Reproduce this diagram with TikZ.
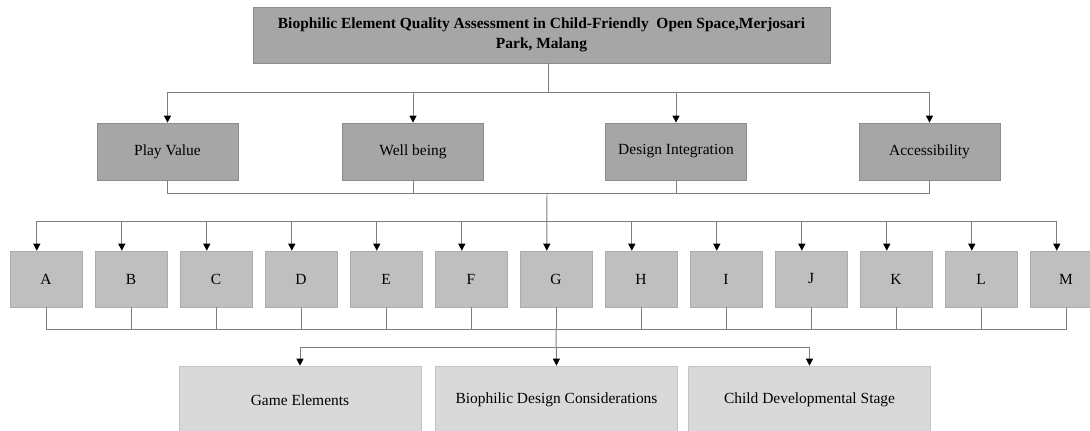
\documentclass[tikz,border=0pt]{standalone}
\usepackage{fontspec}
\setmainfont{Liberation Serif}
\usetikzlibrary{arrows.meta}
\definecolor{headgray}{HTML}{A6A6A6}
\definecolor{elemgray}{HTML}{BFBFBF}
\definecolor{outgray}{HTML}{D9D9D9}
\definecolor{linegray}{HTML}{7F7F7F}
\tikzstyle{headbox} = [rectangle, fill=headgray, draw=headgray!85!black, line width=0.5pt, minimum width=14.425cm, minimum height=1.4cm, inner sep=0pt, align=center, font=\fontsize{11}{14.2}\selectfont\bfseries]
\tikzstyle{aspect} = [rectangle, fill=headgray, draw=headgray!85!black, line width=0.5pt, minimum width=3.525cm, minimum height=1.425cm, font=\fontsize{11}{13}\selectfont]
\tikzstyle{elem} = [rectangle, fill=elemgray, draw=elemgray!90!black, line width=0.4pt, minimum width=1.8cm, minimum height=1.4cm, font=\fontsize{11}{13}\selectfont]
\tikzstyle{outcome} = [rectangle, fill=outgray, draw=outgray!90!black, line width=0.4pt, minimum width=6.05cm, minimum height=1.7cm, font=\fontsize{11}{13}\selectfont]
\tikzstyle{link} = [draw=linegray, line width=0.7pt]
\tikzstyle{arr} = [link, -{Triangle[width=5pt,length=5pt,black]}]

\begin{document}
\begin{tikzpicture}[x=0.025cm, y=-0.025cm]
    \useasboundingbox (0,0) rectangle (1090,431);
    \clip (0,0) rectangle (1090,431);

    % top box and the four aspects
    \node[headbox] (title) at (541.5,35) {Biophilic Element Quality Assessment in Child-Friendly\ \ Open Space,Merjosari\\Park, Malang};
    \node[aspect] (play) at (167.5,151.5) {Play Value};
    \node[aspect] (well) at (413,151.5) {Well being};
    \node[aspect] (integ) at (676,151.5) {Design Integration};
    \node[aspect] (access) at (929.5,151.5) {Accessibility};

    \coordinate (t1) at (548,92);
    \draw [link] (title.south -| t1) -- (t1);
    \draw [link] (play.north |- t1) -- (access.north |- t1);
    \draw [arr] (play.north |- t1) -- (play.north);
    \draw [arr] (well.north |- t1) -- (well.north);
    \draw [arr] (integ.north |- t1) -- (integ.north);
    \draw [arr] (access.north |- t1) -- (access.north);

    % elements A - M
    \node[elem] (A) at (46,279) {A};
    \node[elem] (B) at (131,279) {B};
    \node[elem] (C) at (216,279) {C};
    \node[elem] (D) at (301,279) {D};
    \node[elem] (E) at (386,279) {E};
    \node[elem] (F) at (471,279) {F};
    \node[elem] (G) at (556,279) {G};
    \node[elem] (H) at (641,279) {H};
    \node[elem] (I) at (726,279) {I};
    \node[elem] (J) at (811,279) {J};
    \node[elem] (K) at (896,279) {K};
    \node[elem] (L) at (981,279) {L};
    \node[elem] (M) at (1066,279) {M};

    \coordinate (c1) at (547,193);
    \coordinate (r2) at (547,221);
    \draw [link] (play.south) -- (play.south |- c1) -- (access.south |- c1) -- (access.south);
    \draw [link] (well.south) -- (well.south |- c1);
    \draw [link] (integ.south) -- (integ.south |- c1);
    \draw [link] ([xshift=-0.23cm]A.north |- r2) -- ([xshift=-0.23cm]M.north |- r2);
    \draw [arr] (c1) -- ([xshift=-0.23cm]G.north);
    \foreach \e in {A,B,C,D,E,F,H,I,J,K,L,M}
        \draw [arr] ([xshift=-0.23cm]\e.north |- r2) -- ([xshift=-0.23cm]\e.north);

    % outcome boxes
    \node[outcome] (game) at (300,400) {Game Elements};
    \node[outcome] (consid) at (556.5,400) {Biophilic Design Considerations};
    \node[outcome] (stage) at (809.5,400) {Child Developmental Stage};

    \coordinate (c2) at (556,329);
    \coordinate (r3) at (556,347);
    \draw [link] (A.south) -- (A.south |- c2) -- (M.south |- c2) -- (M.south);
    \foreach \e in {B,C,D,E,F,G,H,I,J,K,L}
        \draw [link] (\e.south) -- (\e.south |- c2);
    \draw [link] (game.north |- r3) -- (stage.north |- r3);
    \draw [arr] (c2) -- (consid.north);
    \draw [arr] (game.north |- r3) -- (game.north);
    \draw [arr] (stage.north |- r3) -- (stage.north);
\end{tikzpicture}
\end{document}
